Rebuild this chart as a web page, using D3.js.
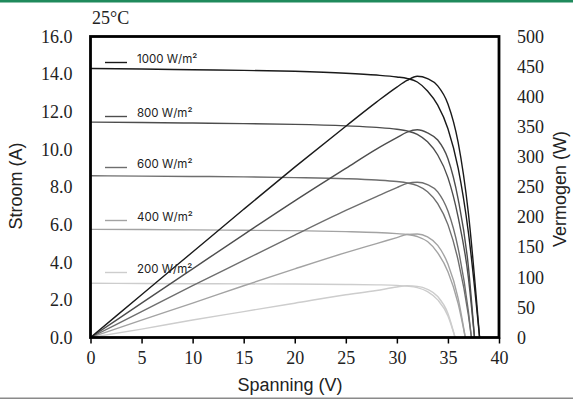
<!DOCTYPE html>
<html>
<head>
<meta charset="utf-8">
<script src="https://cdn.jsdelivr.net/npm/d3@7"></script>
<style>
  body { margin: 0; background: #fff; }
  svg { display: block; }
</style>
</head>
<body>
<script>
//#### DATA ####
var irradiance = ["1000 W/m²", "800 W/m²", "600 W/m²", "400 W/m²", "200 W/m²"];
var colors = ["#1a1a1a", "#4d4d4d", "#6e6e6e", "#a3a3a3", "#cdcdcd"];

// voltage samples (V) per curve, ending at the open circuit voltage
var volt1000 = [0, 5, 10, 15, 20, 25, 28, 30, 31, 32, 33, 34, 35, 36, 37, 38.1];
var volt800  = [0, 5, 10, 15, 20, 25, 28, 30, 31, 32, 33, 34, 35, 36, 37, 37.6];
var volt600  = [0, 5, 10, 15, 20, 25, 28, 30, 31, 32, 33, 34, 35, 36, 37, 37.3];
var volt400  = [0, 5, 10, 15, 20, 25, 28, 30, 31, 32, 33, 34, 35, 36, 36.7];
var volt200  = [0, 5, 10, 15, 20, 25, 28, 30, 31, 32, 33, 34, 35, 35.7];

// current (A)
var amp1000 = [14.3, 14.27, 14.23, 14.2, 14.15, 14.05, 13.95, 13.85, 13.77, 13.58, 13.1, 12.35, 11.1, 9.0, 5.6, 0];
var amp800  = [11.45, 11.43, 11.4, 11.37, 11.33, 11.25, 11.17, 11.07, 10.98, 10.8, 10.4, 9.7, 8.5, 6.4, 3.2, 0];
var amp600  = [8.6, 8.58, 8.56, 8.54, 8.5, 8.44, 8.37, 8.29, 8.22, 8.07, 7.75, 7.12, 6.0, 4.1, 1.2, 0];
var amp400  = [5.75, 5.74, 5.72, 5.7, 5.68, 5.63, 5.58, 5.52, 5.48, 5.37, 5.1, 4.5, 3.5, 1.8, 0];
var amp200  = [2.88, 2.87, 2.86, 2.85, 2.84, 2.82, 2.8, 2.77, 2.73, 2.65, 2.44, 2.0, 1.15, 0];

// power (W)
var watt1000 = [0, 71, 142, 213, 283, 351, 391, 416, 427, 434, 430, 418, 388, 324, 207, 0];
var watt800  = [0, 57, 114, 171, 227, 281, 313, 332, 341, 345, 340, 328, 297, 230, 118, 0];
var watt600  = [0, 43, 86, 128, 170, 211, 234, 249, 256, 258, 254, 242, 210, 148, 44, 0];
var watt400  = [0, 29, 57, 86, 114, 141, 156, 166, 171, 172, 167, 153, 122, 65, 0];
var watt200  = [0, 14, 29, 43, 57, 71, 78, 84, 86, 85, 80, 68, 40, 0];

var voltTicks = [0, 5, 10, 15, 20, 25, 30, 35, 40];
var ampTicks = [0, 2, 4, 6, 8, 10, 12, 14, 16];
var wattTicks = [0, 50, 100, 150, 200, 250, 300, 350, 400, 450, 500];

var volts = [volt1000, volt800, volt600, volt400, volt200];
var amps = [amp1000, amp800, amp600, amp400, amp200];
var watts = [watt1000, watt800, watt600, watt400, watt200];

// #### layout ####
var W = 573, H = 401;
var pLeft = 90.5, pRight = 499, pTop = 36.5, pBottom = 337.5;

var svg = d3.select("body").append("svg")
  .attr("width", W)
  .attr("height", H);

var x = d3.scaleLinear().domain([0, 40]).range([pLeft, pRight]);
var yI = d3.scaleLinear().domain([0, 16]).range([pBottom, pTop]);
var yP = d3.scaleLinear().domain([0, 500]).range([pBottom, pTop]);

// top and bottom rules
svg.append("rect").attr("x", 0).attr("y", 0).attr("width", W).attr("height", 2.5)
  .style("fill", "#1f8a5c");
svg.append("rect").attr("x", 0).attr("y", 397.5).attr("width", W).attr("height", 1.5)
  .style("fill", "#8a8a8a");

var serif = "'Liberation Serif', 'Times New Roman', serif";
var sans = "'Liberation Sans', Arial, sans-serif";

svg.append("text")
  .attr("x", 92).attr("y", 24)
  .style("font-family", serif).style("font-size", "18px").style("fill", "#222")
  .text("25°C");

// axes
var xAxis = d3.axisBottom(x).tickValues(voltTicks).tickSize(6).tickPadding(8)
  .tickFormat(d3.format("d"));
var gx = svg.append("g")
  .attr("transform", "translate(0," + pBottom + ")")
  .call(xAxis);
gx.select(".domain").remove();
gx.selectAll("line").style("stroke", "#000").style("stroke-width", 1.5);
gx.selectAll("text").style("font-family", serif).style("font-size", "18px").style("fill", "#222");

var gl = svg.append("g")
  .attr("transform", "translate(" + pLeft + ",0)")
  .call(d3.axisLeft(yI).tickValues(ampTicks).tickSize(0).tickPadding(18)
    .tickFormat(d3.format(".1f")));
gl.select(".domain").remove();
gl.selectAll("text").style("font-family", serif).style("font-size", "18px").style("fill", "#222");

var gr = svg.append("g")
  .attr("transform", "translate(" + pRight + ",0)")
  .call(d3.axisRight(yP).tickValues(wattTicks).tickSize(0).tickPadding(18)
    .tickFormat(d3.format("d")));
gr.select(".domain").remove();
gr.selectAll("text").style("font-family", serif).style("font-size", "18px").style("fill", "#222");

// axis titles
svg.append("text")
  .attr("transform", "translate(22,186) rotate(-90)")
  .attr("text-anchor", "middle")
  .style("font-family", sans).style("font-size", "18px").style("fill", "#222")
  .text("Stroom (A)");

svg.append("text")
  .attr("transform", "translate(566,189) rotate(-90)")
  .attr("text-anchor", "middle")
  .style("font-family", sans).style("font-size", "18px").style("fill", "#222")
  .text("Vermogen (W)");

svg.append("text")
  .attr("x", 290).attr("y", 391)
  .attr("text-anchor", "middle")
  .style("font-family", sans).style("font-size", "18px").style("fill", "#222")
  .text("Spanning (V)");

// curves
var lineI = d3.line()
  .x(function(d) { return x(d[0]); })
  .y(function(d) { return yI(d[1]); })
  .curve(d3.curveMonotoneX);

var lineP = d3.line()
  .x(function(d) { return x(d[0]); })
  .y(function(d) { return yP(d[1]); })
  .curve(d3.curveMonotoneX);

// draw lighter ones first so dark ones stay on top
for (var k = irradiance.length - 1; k >= 0; k--) {
  var ptsI = volts[k].map(function(v, i) { return [v, amps[k][i]]; });
  var ptsP = volts[k].map(function(v, i) { return [v, watts[k][i]]; });

  svg.append("path")
    .datum(ptsI)
    .attr("d", lineI)
    .style("fill", "none").style("stroke", colors[k]).style("stroke-width", 1.4);

  svg.append("path")
    .datum(ptsP)
    .attr("d", lineP)
    .style("fill", "none").style("stroke", colors[k]).style("stroke-width", 1.4);
}

// legend
var legendY = [62, 116, 167, 220, 272];
var legend = svg.selectAll(".legend")
  .data(irradiance)
  .enter().append("g")
  .attr("class", "legend")
  .attr("transform", function(d, i) { return "translate(105," + legendY[i] + ")"; });

legend.append("line")
  .attr("x1", 0).attr("x2", 22).attr("y1", 0.5).attr("y2", 0.5)
  .style("stroke", function(d, i) { return colors[i]; })
  .style("stroke-width", 1.4);

legend.append("text")
  .attr("x", 32).attr("y", 0)
  .attr("dy", "0.1em")
  .style("font-family", "Inter, 'Noto Sans', sans-serif")
  .style("font-size", "11.5px").style("fill", "#222")
  .text(function(d) { return d; });

// frame
svg.append("rect")
  .attr("x", pLeft).attr("y", pTop)
  .attr("width", pRight - pLeft).attr("height", pBottom - pTop)
  .style("fill", "none").style("stroke", "#000").style("stroke-width", 2.8);
</script>
</body>
</html>
